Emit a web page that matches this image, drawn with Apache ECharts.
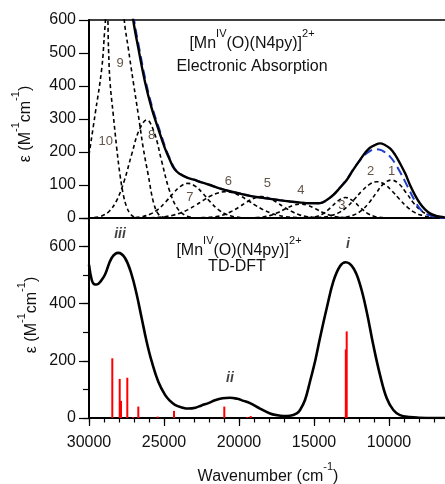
<!DOCTYPE html>
<html><head><meta charset="utf-8">
<script src="https://cdn.jsdelivr.net/npm/echarts@6/dist/echarts.min.js"></script>
<style>html,body{margin:0;padding:0;background:#fff}#c{width:445px;height:484px}</style>
</head><body><div id="c"></div>
<script>
const FONT = 'Arial, "Liberation Sans", Helvetica, sans-serif';

// Top panel: experimental spectrum, fit and Gaussian components  [wavenumber, epsilon]
const expTotal = [[27300,700],[27050,600],[26710,514],[26270,413],[25820,332],[25380,270],[24930,210],[24600,175],[24300,148],[23930,133],[23500,123],[23000,116],[22500,108],[21930,100],[21300,90],[20600,81],[19930,74],[19270,67],[18600,62],[17930,58],[17300,54],[16600,50],[16000,47],[15500,45],[15000,44.5],[14600,45],[14200,53],[13710,70],[13300,90],[12820,115],[12400,145],[11930,176],[11600,197],[11270,213],[10900,222],[10600,226],[10300,222],[9930,211],[9600,192],[9270,166],[8900,133],[8600,100],[8250,68],[7930,44],[7600,26],[7270,14],[6900,7],[6600,4],[6300,2],[6000,1]];
const expFit = [[27250,700],[26990,600],[26650,514],[26210,413],[25760,332],[25320,270],[24880,210],[24560,175],[24260,148],[23900,133],[23500,123],[23000,116],[22500,108],[21930,100],[21300,90],[20600,81],[19930,74],[19270,67],[18600,62],[17930,58],[17300,54],[16600,50],[16000,47],[15500,45],[15000,44.5],[14600,45],[14200,53],[13710,70],[13300,91],[12820,117],[12400,147],[11930,175],[11600,192],[11270,203],[10900,208],[10600,207],[10300,200],[9930,186],[9600,166],[9270,140],[8900,108],[8600,80],[8250,50],[7930,28],[7600,14],[7270,8],[6900,3],[6600,1],[6000,0]];
const band1 = [[13350,1],[12850,3],[12350,9],[11850,22],[11350,45],[10850,76],[10350,104],[9850,115],[9350,104],[8850,76],[8350,45],[7850,22],[7350,9],[6850,3],[6350,1]];
const band2 = [[14800,1],[14300,3],[13800,8],[13300,17],[12800,34],[12300,57],[11800,82],[11300,102],[10800,110],[10300,102],[9800,82],[9300,57],[8800,34],[8300,17],[7800,8],[7300,3],[6800,1]];
const band3 = [[15400,1],[14900,4],[14400,13],[13900,31],[13400,52],[12900,62],[12400,52],[11900,31],[11400,13],[10900,4],[10400,1]];
const band4 = [[18900,1],[18400,3],[17900,8],[17400,16.5],[16900,28],[16400,38],[15900,42],[15400,38],[14900,28],[14400,16.5],[13900,8],[13400,3],[12900,1]];
const band5 = [[22500,1],[22000,2],[21500,4.5],[21000,10],[20500,20],[20000,33],[19500,48],[19000,60],[18500,65],[18000,60],[17500,48],[17000,33],[16500,20],[16000,10],[15500,4.5],[15000,2],[14500,1]];
const band6 = [[25900,0.8],[25400,1.9],[24900,4.2],[24400,8.4],[23900,15.3],[23400,25.4],[22900,38.4],[22400,53],[21900,66.6],[21400,76],[20900,80],[20400,76],[19900,66.6],[19400,53],[18900,38.4],[18400,25.4],[17900,15.3],[17400,8.4],[16900,4.2],[16400,1.9],[15900,0.8]];
const band7 = [[26900,1.5],[26400,4.6],[25900,12],[25400,26],[24900,48],[24400,74],[23900,96],[23400,105],[22900,96],[22400,74],[21900,48],[21400,26],[20900,12],[20400,4.6],[19900,1.5]];
const band8 = [[29650,1.6],[29150,6.3],[28650,20.4],[28150,53.5],[27650,113],[27150,193.5],[26650,267],[26150,297],[25650,259],[25150,171],[24650,85],[24150,32.4],[23650,9.3],[23150,2]];
const band9 = [[28000,900],[27800,720],[27650,600],[27380,514],[27050,413],[26710,312],[26380,211],[26050,130],[25710,49],[25380,12],[25000,2],[24600,0]];
const band10 = [[30000,191],[29600,312],[29150,453],[28950,570],[28850,620],[28780,625],[28700,514],[28600,413],[28380,312],[28150,211],[27930,130],[27710,70],[27500,35],[27270,14],[27000,3],[26700,0]];
const bands = [band1, band2, band3, band4, band5, band6, band7, band8, band9, band10];
const bandLabelText = ['1','2','3','4','5','6','7','8','9','10'];
const bandLabelPos = [[9830,140],[11220,140],[13150,39],[15870,85],[18110,105],[20710,112],[23270,63],[25820,250],[27930,468],[28890,232]];

// Bottom panel: TD-DFT spectrum and transitions
const dftCurve = [[30000,537],[29820,484],[29650,468],[29490,467],[29200,480],[28930,502],[28490,560],[28050,578],[27600,560],[27160,502],[26820,432],[26490,350],[26160,268],[25820,198],[25380,127],[24930,81],[24600,60],[24270,46],[23800,37],[23380,33],[22900,36],[22500,44],[22000,53],[21600,62],[21100,69],[20600,71],[20100,67],[19700,60],[19270,52],[18600,33],[17930,16],[17500,10],[17050,7],[16600,8],[16150,16],[15930,28],[15600,63],[15270,127],[14900,205],[14600,280],[14150,385],[13710,478],[13270,531],[12890,545],[12380,525],[11930,467],[11490,373],[11050,256],[10600,151],[10150,69],[9710,28],[9270,10],[8600,3],[8000,1],[7000,0],[6000,0]];
const dftSticks = [[28447,209],[27953,137],[27867,60],[27447,141],[27050,3],[26713,40],[25420,5],[24333,25],[20980,40],[19450,3],[19220,7],[12880,240],[12820,303]];
const romanText = ['iii','ii','i'];
const romanPos = [[27930,642],[20600,140],[12730,607]];

const xTickLabels = [30000,25000,20000,15000,10000];
const topYTicks = [0,100,200,300,400,500,600];
const bottomYLabels = [0,200,400,600];

const chart = echarts.init(document.getElementById('c'), null, {renderer:'canvas'});
const XMIN = 5000, XMAX = 30000;
const baseX = (grid, pos, extra) => Object.assign({
  gridIndex: grid, type:'value', inverse:true, min:XMIN, max:XMAX, position: pos,
  splitLine:{show:false}, axisLabel:{show:false}, axisTick:{show:false},
  axisLine:{show:true, lineStyle:{color:'#000', width:2}}
}, extra||{});

const series = [];
bands.forEach((b,i)=>{
  series.push({type:'line', xAxisIndex:0, yAxisIndex:0, data:b, smooth:0.4, symbol:'none', clip:true, z:2,
    lineStyle:{color:'#000', width:1.6, type:[4,3]}});
});
series.push({type:'line', xAxisIndex:0, yAxisIndex:0, data:expFit, smooth:0.4, symbol:'none', clip:true, z:3,
  lineStyle:{color:'#1f3fc8', width:2, type:[9,5]}});
series.push({type:'line', xAxisIndex:0, yAxisIndex:0, data:expTotal, smooth:0.4, symbol:'none', clip:true, z:4,
  lineStyle:{color:'#000', width:2.4}});
series.push({type:'scatter', xAxisIndex:0, yAxisIndex:0, symbolSize:1, itemStyle:{color:'rgba(0,0,0,0)'}, z:5,
  data: bandLabelPos.map((p,i)=>({value:p, name:bandLabelText[i]})),
  label:{show:true, position:'inside', formatter:'{b}', fontFamily:FONT, fontSize:13, color:'#3b2a1a'}});
series.push({type:'custom', xAxisIndex:2, yAxisIndex:1, data:dftSticks, z:2,
  renderItem:(params, api)=>{
    const p0 = api.coord([api.value(0), 0]);
    const p1 = api.coord([api.value(0), api.value(1)]);
    return {type:'line', shape:{x1:p0[0], y1:p0[1], x2:p1[0], y2:p1[1]}, style:{stroke:'#ff0000', lineWidth:2}};
  }});
series.push({type:'line', xAxisIndex:2, yAxisIndex:1, data:dftCurve, smooth:0.4, symbol:'none', clip:true, z:4,
  lineStyle:{color:'#000', width:2.6}});
series.push({type:'scatter', xAxisIndex:2, yAxisIndex:1, symbolSize:1, itemStyle:{color:'rgba(0,0,0,0)'}, z:5,
  data: romanPos.map((p,i)=>({value:p, name:romanText[i]})),
  label:{show:true, position:'inside', formatter:'{b}', fontFamily:FONT, fontSize:14, fontWeight:'bold', fontStyle:'italic', color:'#111'}});

const mainRich = (size) => ({
  r:{fontFamily:FONT, fontSize:size, lineHeight:24, verticalAlign:'bottom', fill:'#111', color:'#111'},
  s:{fontFamily:FONT, fontSize:11, lineHeight:10, verticalAlign:'top', fill:'#111', color:'#111'}
});
const txt = (x, y, text, rot, size) => ({
  type:'text', x:x, y:y, rotation: rot||0, z:10,
  style:{text:text, rich:mainRich(size||16), align:'center', verticalAlign:'middle', fontFamily:FONT, fontSize:size||16, fill:'#111'}
});

const gridBase = {containLabel:false, outerBoundsMode:'none'};
const option = {
  animation:false,
  backgroundColor:'#fff',
  grid:[
    Object.assign({left:89, top:20, right:-19, height:198}, gridBase),
    Object.assign({left:89, top:218, right:-19, height:200}, gridBase),
    Object.assign({left:89, top:218, right:-19, height:200}, gridBase)
  ],
  xAxis:[
    baseX(0,'bottom'),
    baseX(0,'top',{axisLine:{show:true, lineStyle:{color:'#000', width:1.5}}}),
    baseX(1,'bottom',{interval:1000,
      axisTick:{show:true, length:4.5, lineStyle:{color:'#000', width:1.2}},
      axisLabel:{show:true, margin:17, fontFamily:FONT, fontSize:16, color:'#111',
        formatter:(v)=> xTickLabels.indexOf(v)>=0 ? String(v) : ''}}),
    baseX(2,'bottom',{interval:5000, axisLine:{show:false},
      axisTick:{show:true, length:8, lineStyle:{color:'#000', width:1.2}}})
  ],
  yAxis:[
    {gridIndex:0, type:'value', min:0, max:600, interval:100, splitLine:{show:false},
      axisLine:{show:true, lineStyle:{color:'#000', width:2}},
      axisTick:{show:true, length:10, lineStyle:{color:'#000', width:1.2}},
      axisLabel:{show:true, margin:13, fontFamily:FONT, fontSize:16, color:'#111',
        formatter:(v)=> topYTicks.indexOf(v)>=0 ? String(v) : ''}},
    {gridIndex:1, type:'value', min:0, max:700, interval:100, splitLine:{show:false},
      axisLine:{show:true, lineStyle:{color:'#000', width:2}},
      axisTick:{show:true, length:6, lineStyle:{color:'#000', width:1.2}},
      axisLabel:{show:true, margin:13, fontFamily:FONT, fontSize:16, color:'#111',
        formatter:(v)=> bottomYLabels.indexOf(v)>=0 ? String(v) : ''}},
    {gridIndex:2, type:'value', min:0, max:700, interval:200, splitLine:{show:false},
      axisLine:{show:false}, axisLabel:{show:false},
      axisTick:{show:true, length:10, lineStyle:{color:'#000', width:1.2}}}
  ],
  series: series,
  graphic:[
    txt(252, 40, '{r|[Mn}{s|IV}{r|(O)(N4py)]}{s|2+}'),
    txt(252, 63, '{r|Electronic Absorption}'),
    txt(239, 247, '{r|[Mn}{s|IV}{r|(O)(N4py)]}{s|2+}'),
    txt(237, 263, '{r|TD-DFT}'),
    txt(268, 473, '{r|Wavenumber (cm}{s|-1}{r|)}'),
    txt(22, 124, '{r|ε (M}{s|-1}{r|cm}{s|-1}{r|)}', Math.PI/2),
    txt(28, 315, '{r|ε (M}{s|-1}{r|cm}{s|-1}{r|)}', Math.PI/2)
  ]
};
chart.setOption(option);
</script></body></html>
